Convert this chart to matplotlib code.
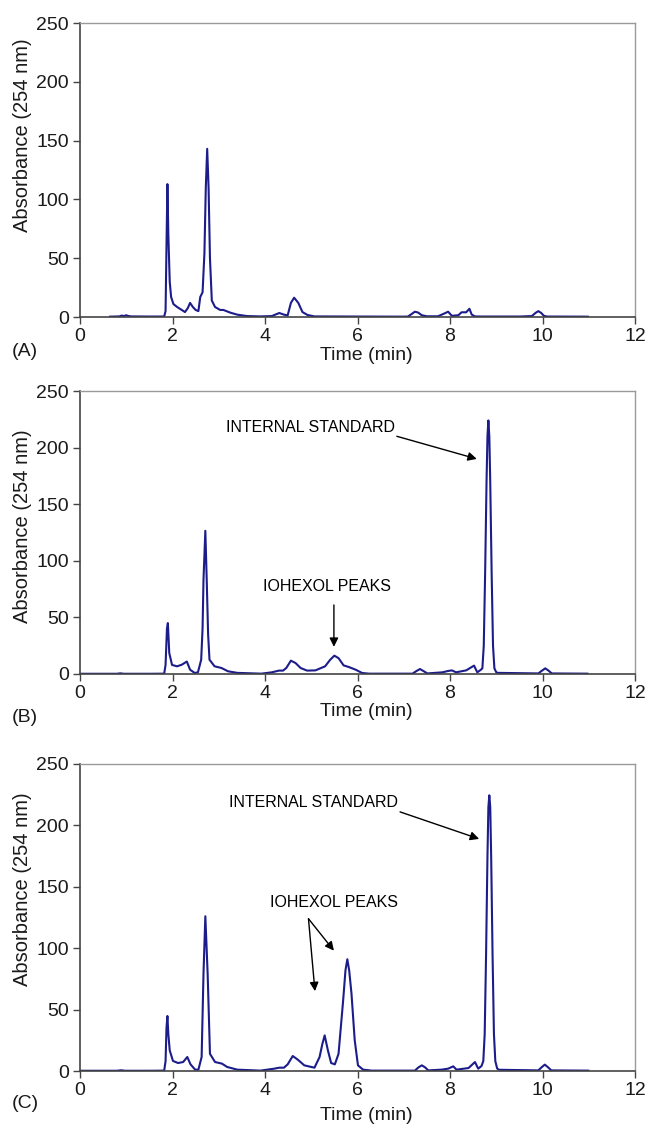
import matplotlib
matplotlib.use("Agg")
import matplotlib.pyplot as plt

plt.rcParams['font.family'] = ['Liberation Sans', 'DejaVu Sans']

# ---------------- data ----------------
time_a = [0.65, 0.85, 0.9, 0.95, 1.0, 1.03, 1.1, 1.5, 1.82, 1.85, 1.87, 1.89, 1.91, 1.94, 1.97, 2.02,
          2.1, 2.2, 2.27, 2.33, 2.38, 2.44, 2.5, 2.56, 2.6, 2.65, 2.69, 2.72, 2.75, 2.78, 2.81, 2.85,
          2.92, 3.03, 3.1, 3.25, 3.4, 3.61, 3.9, 4.15, 4.22, 4.31, 4.41, 4.49, 4.56, 4.63, 4.72, 4.81,
          4.92, 5.07, 6.0, 7.0, 7.09, 7.17, 7.24, 7.31, 7.39, 7.5, 7.74, 7.85, 7.96, 8.04, 8.18, 8.25,
          8.35, 8.42, 8.47, 8.54, 8.7, 9.5, 9.77, 9.85, 9.91, 9.97, 10.03, 10.1, 10.98]
abs_a = [0.3, 0.5, 1.2, 0.8, 1.5, 1.0, 0.5, 0.4, 0.4, 5, 60, 113, 70, 30, 17, 11,
         8.5, 6, 4.2, 7.5, 12, 8.5, 6, 5, 17, 21, 54, 110, 143, 110, 50, 14,
         8.5, 6, 6, 3.7, 2, 0.8, 0.5, 0.8, 2, 3.4, 2, 1.4, 12, 16.4, 12, 4.2,
         1.7, 0.5, 0.4, 0.3, 0.4, 2.5, 4.5, 3.8, 1.5, 0.6, 0.6, 2.5, 4.5, 1, 1.5, 4,
         4, 7, 2, 0.5, 0.4, 0.4, 0.8, 3.5, 5, 3.5, 1, 0.4, 0.3]

time_b = [0.0, 0.8, 0.87, 0.95, 1.5, 1.82, 1.85, 1.88, 1.9, 1.93, 1.99, 2.1, 2.2, 2.31, 2.38, 2.48,
          2.55, 2.62, 2.65, 2.67, 2.71, 2.74, 2.77, 2.8, 2.91, 3.06, 3.2, 3.4, 3.92, 4.15, 4.3, 4.39,
          4.46, 4.56, 4.66, 4.77, 4.91, 5.09, 5.3, 5.41, 5.5, 5.59, 5.7, 5.81, 5.96, 6.1, 6.25, 7.19,
          7.27, 7.35, 7.43, 7.51, 7.84, 7.95, 8.04, 8.13, 8.35, 8.52, 8.59, 8.66, 8.7, 8.73, 8.76, 8.79,
          8.81, 8.83, 8.85, 8.87, 8.9, 8.93, 8.96, 9.0, 9.04, 9.91, 9.99, 10.06, 10.13, 10.2, 10.97]
abs_b = [0.2, 0.2, 0.6, 0.2, 0.2, 0.3, 8, 40, 45, 18.5, 8, 6.8, 8.2, 11, 3.8, 0.9,
         1.5, 12.6, 40, 83, 126.5, 83, 35, 12.6, 6.8, 5.3, 2.4, 1, 0.3, 1.5, 3, 3,
         5.3, 11.8, 9.7, 5.3, 3, 3.2, 6.8, 12.6, 16.2, 14, 7.6, 6.2, 3.8, 0.9, 0.3, 0.3,
         2.5, 4.4, 2.5, 0.5, 1.5, 2.6, 3.2, 1.5, 3.2, 7.4, 1.5, 3.5, 5, 25, 90, 170,
         210, 224, 210, 170, 90, 25, 5, 1.5, 1, 0.5, 3, 5, 3, 0.5, 0.3]

time_c = [0.0, 0.8, 0.89, 0.97, 1.5, 1.82, 1.85, 1.87, 1.89, 1.91, 1.94, 2.01, 2.12, 2.23, 2.32, 2.39,
          2.49, 2.56, 2.63, 2.67, 2.71, 2.76, 2.81, 2.92, 3.07, 3.18, 3.4, 3.9, 4.2, 4.31, 4.41, 4.49,
          4.6, 4.71, 4.85, 5.07, 5.18, 5.24, 5.29, 5.36, 5.43, 5.51, 5.59, 5.69, 5.74, 5.78, 5.82, 5.87,
          5.94, 6.01, 6.12, 6.31, 7.24, 7.32, 7.39, 7.46, 7.53, 7.82, 7.96, 8.07, 8.14, 8.4, 8.54, 8.61,
          8.68, 8.72, 8.75, 8.78, 8.81, 8.83, 8.85, 8.87, 8.89, 8.92, 8.95, 8.98, 9.02, 9.06, 9.91, 9.98,
          10.05, 10.12, 10.19, 10.99]
abs_c = [0.2, 0.2, 0.6, 0.2, 0.2, 0.3, 8, 35, 44.8, 30, 16.8, 8.2, 6.5, 7.3, 11.4, 5.4,
         1.1, 1.1, 11.4, 79, 126, 79, 14, 7.3, 6, 3.3, 1.1, 0.3, 1.9, 2.7, 2.7, 5.4,
         12.2, 9.2, 4.6, 2.7, 11.4, 22, 29, 16.8, 6.5, 5.4, 14, 57.6, 82, 91, 82, 63,
         25, 4.6, 1.1, 0.3, 0.3, 3, 4.6, 3, 0.5, 1.1, 1.9, 3.8, 1.1, 2.4, 7.3, 1.9,
         4, 8, 30, 95, 175, 215, 224.5, 215, 175, 95, 30, 8, 2, 1, 0.5, 3, 5.2, 3, 0.5, 0.3]

x_ticks = [0, 2, 4, 6, 8, 10, 12]
y_ticks = [0, 50, 100, 150, 200, 250]
panel_labels = ['(A)', '(B)', '(C)']
x_label = 'Time (min)'
y_label = 'Absorbance (254 nm)'

# ---------------- layout ----------------
W, H = 648, 1128
fig = plt.figure(figsize=(W / 100, H / 100), dpi=100)

def frac_box(top_px, bottom_px, left_px=80, right_px=635):
    return [left_px / W, 1 - bottom_px / H, (right_px - left_px) / W, (bottom_px - top_px) / H]

boxes = [frac_box(23, 317), frac_box(391, 674), frac_box(764, 1071)]
series = [(time_a, abs_a), (time_b, abs_b), (time_c, abs_c)]
line_color = '#1c1c8a'
fs = 14

axes = []
for box, (t, a) in zip(boxes, series):
    ax = fig.add_axes(box)
    ax.plot(t, a, color=line_color, lw=1.5, solid_joinstyle='round')
    ax.set_xlim(0, 12)
    ax.set_ylim(0, 250)
    ax.set_xticks(x_ticks)
    ax.set_yticks(y_ticks)
    ax.tick_params(direction='out', length=5, width=1, color='#444444',
                   labelsize=fs, labelcolor='#1a1a1a', pad=3)
    for s in ['left', 'bottom']:
        ax.spines[s].set_color('#444444')
        ax.spines[s].set_linewidth(1.2)
    for s in ['top', 'right']:
        ax.spines[s].set_color('#9a9a9a')
        ax.spines[s].set_linewidth(1.0)
    axes.append(ax)

# y labels
for y_center in [135, 526, 889]:
    fig.text(23 / W, 1 - y_center / H, y_label, rotation=90, ha='center', va='center',
             fontsize=14.5, color='#1a1a1a')

# x labels and panel letters
for (tx_y, lab_y, lab) in [(355, 352, panel_labels[0]), (712, 718, panel_labels[1]),
                           (1116, 1104, panel_labels[2])]:
    fig.text(366 / W, 1 - tx_y / H, x_label, ha='center', va='center', fontsize=14,
             color='#1a1a1a')
    fig.text(12 / W, 1 - lab_y / H, lab, ha='left', va='center', fontsize=14,
             color='#1a1a1a')

arrow = dict(arrowstyle='-|>', color='black', lw=1.0, mutation_scale=13, shrinkA=0, shrinkB=0)
afs = 11.5

# panel B annotations
axb = axes[1]
axb.text(4.99, 218, 'INTERNAL STANDARD', ha='center', va='center', fontsize=afs)
axb.annotate('', xy=(8.58, 190), xytext=(6.85, 210), arrowprops=arrow)
axb.text(5.33, 77, 'IOHEXOL PEAKS', ha='center', va='center', fontsize=afs)
axb.annotate('', xy=(5.49, 24), xytext=(5.49, 61), arrowprops=arrow)

# panel C annotations
axc = axes[2]
axc.text(5.04, 219, 'INTERNAL STANDARD', ha='center', va='center', fontsize=afs)
axc.annotate('', xy=(8.63, 189), xytext=(6.92, 211), arrowprops=arrow)
axc.text(5.5, 137, 'IOHEXOL PEAKS', ha='center', va='center', fontsize=afs)
axc.annotate('', xy=(5.08, 65), xytext=(4.94, 124), arrowprops=arrow)
axc.annotate('', xy=(5.49, 98), xytext=(4.94, 124), arrowprops=arrow)

fig.savefig('out.png', dpi=100)
